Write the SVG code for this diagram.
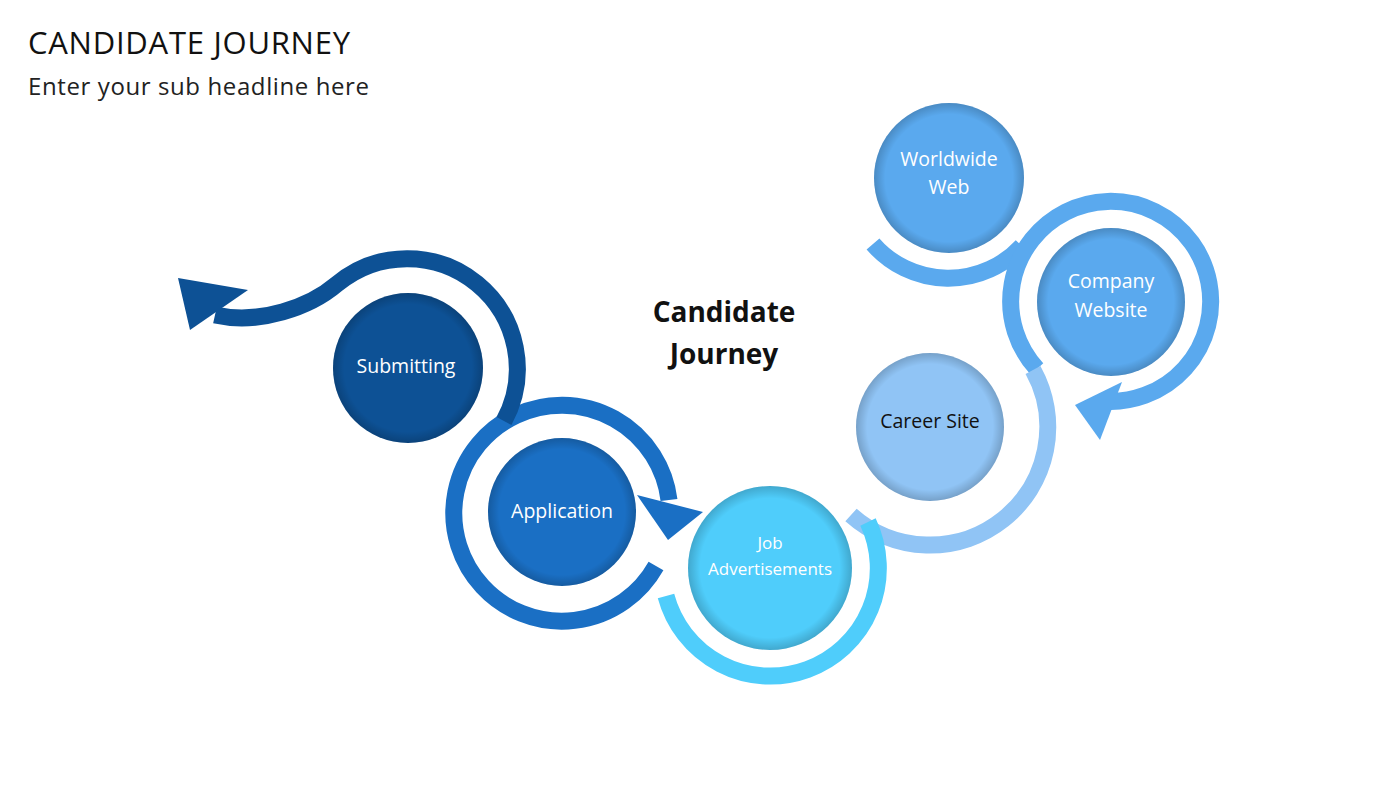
<svg xmlns="http://www.w3.org/2000/svg" width="1400" height="788" viewBox="0 0 1400 788">
<style>
text{font-family:"Open Sans","Liberation Sans",sans-serif}
.t{font-size:19.5px;fill:#fff;text-anchor:middle}
.r{fill:none;stroke-width:17}
</style>
<defs>
<radialGradient id="sh" cx="50%" cy="50%" r="50%">
<stop offset="0.85" stop-color="#000" stop-opacity="0"/>
<stop offset="1" stop-color="#000" stop-opacity="0.18"/>
</radialGradient>
</defs>
<rect width="1400" height="788" fill="#fff"/>
<text x="28" y="54" font-size="31" fill="#111" textLength="322">CANDIDATE JOURNEY</text>
<text x="28" y="95" font-size="24" fill="#222" textLength="341">Enter your sub headline here</text>
<text x="724" y="322" font-size="28" font-weight="bold" text-anchor="middle" fill="#111">Candidate</text>
<text x="724" y="364" font-size="28" font-weight="bold" text-anchor="middle" fill="#111">Journey</text>
<g id="connectors">
<path class="r" stroke="#5aa9ee" d="M 873,244 A 100 100 0 0 0 1022,246"/>
<path class="r" stroke="#5aa9ee" d="M 1037,369 A 100 100 0 1 1 1102,401"/>
<polygon fill="#5aa9ee" points="1075,405 1122,382 1100,440"/>
<path class="r" stroke="#90c4f5" d="M 1033,370 A 118 118 0 0 1 851,515"/>
<path class="r" stroke="#4fcdfb" d="M 868,522 A 108 108 0 1 1 666,596"/>
<path class="r" stroke="#1a6fc4" d="M 656,566 A 108 108 0 1 1 669,500"/>
<polygon fill="#1a6fc4" points="637,495 703,512 668,540"/>
<path class="r" stroke="#0d5195" d="M 504,421 A 110 110 0 0 0 337,284 C 310,307 260,325 215,315"/>
<polygon fill="#0d5195" points="178,278 248,290 190,330"/>
</g>
<g id="ww"><circle cx="949" cy="178" r="75" fill="#5aa9ee"/><circle cx="949" cy="178" r="75" fill="url(#sh)"/><text class="t" x="949" y="166">Worldwide</text><text class="t" x="949" y="194">Web</text></g>
<g id="cw"><circle cx="1111" cy="302" r="74" fill="#5aa9ee"/><circle cx="1111" cy="302" r="74" fill="url(#sh)"/><text class="t" x="1111" y="288">Company</text><text class="t" x="1111" y="317">Website</text></g>
<g id="cs"><circle cx="930" cy="427" r="74" fill="#90c4f5"/><circle cx="930" cy="427" r="74" fill="url(#sh)"/><text class="t" x="930" y="428" style="fill:#111">Career Site</text></g>
<g id="ja"><circle cx="770" cy="568" r="82" fill="#4fcdfb"/><circle cx="770" cy="568" r="82" fill="url(#sh)"/><text class="t" x="770" y="549" style="font-size:17px">Job</text><text class="t" x="770" y="575" style="font-size:17px">Advertisements</text></g>
<g id="ap"><circle cx="562" cy="512" r="74" fill="#1a6fc4"/><circle cx="562" cy="512" r="74" fill="url(#sh)"/><text class="t" x="562" y="518">Application</text></g>
<g id="su"><circle cx="408" cy="368" r="75" fill="#0d5195"/><circle cx="408" cy="368" r="75" fill="url(#sh)"/><text class="t" x="406" y="373">Submitting</text></g>
</svg>
